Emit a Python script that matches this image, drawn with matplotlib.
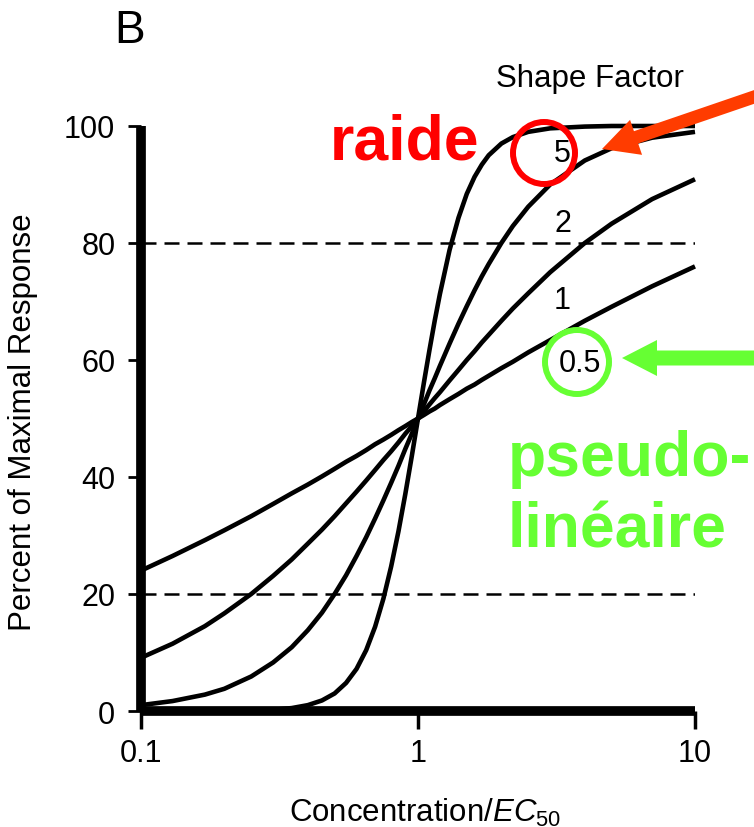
import matplotlib
matplotlib.use("Agg")
import matplotlib.pyplot as plt
from matplotlib.patches import Circle, FancyArrow
from matplotlib.transforms import IdentityTransform
from matplotlib.ticker import NullLocator

plt.rcParams['font.family'] = ['Liberation Sans', 'DejaVu Sans']
plt.rcParams['mathtext.fontset'] = 'custom'
plt.rcParams['mathtext.rm'] = 'Liberation Sans'
plt.rcParams['mathtext.it'] = 'Liberation Sans:italic'

# concentration / EC50 (read along the x axis)
conc = [0.1, 0.13, 0.17, 0.2, 0.25, 0.3, 0.35, 0.4, 0.45, 0.5, 0.55, 0.6,
        0.65, 0.7, 0.75, 0.8, 0.85, 0.9, 0.95, 1.0, 1.05, 1.1, 1.15, 1.2,
        1.3, 1.4, 1.5, 1.6, 1.7, 1.8, 2.0, 2.2, 2.5, 3.0, 4.0, 5.0, 7.0, 10.0]

# percent of maximal response, one list per shape factor
resp_05 = [24.0, 26.5, 29.2, 30.9, 33.3, 35.4, 37.2, 38.7, 40.1, 41.4, 42.6, 43.6,
           44.6, 45.6, 46.4, 47.2, 48.0, 48.7, 49.4, 50.0, 50.6, 51.2, 51.7, 52.3,
           53.3, 54.2, 55.1, 55.8, 56.6, 57.3, 58.6, 59.7, 61.3, 63.4, 66.7, 69.1,
           72.6, 76.0]
resp_1 = [9.1, 11.5, 14.5, 16.7, 20.0, 23.1, 25.9, 28.6, 31.0, 33.3, 35.5, 37.5,
          39.4, 41.2, 42.9, 44.4, 45.9, 47.4, 48.7, 50.0, 51.2, 52.4, 53.5, 54.5,
          56.5, 58.3, 60.0, 61.5, 63.0, 64.3, 66.7, 68.8, 71.4, 75.0, 80.0, 83.3,
          87.5, 90.9]
resp_2 = [1.0, 1.7, 2.8, 3.8, 5.9, 8.3, 10.9, 13.8, 16.8, 20.0, 23.2, 26.5,
          29.7, 32.9, 36.0, 39.0, 41.9, 44.8, 47.4, 50.0, 52.4, 54.8, 56.9, 59.0,
          62.8, 66.2, 69.2, 71.9, 74.3, 76.4, 80.0, 82.9, 86.2, 90.0, 94.1, 96.2,
          98.0, 99.0]
resp_5 = [0.0, 0.0, 0.0, 0.0, 0.1, 0.2, 0.5, 1.0, 1.8, 3.0, 4.8, 7.2,
          10.4, 14.4, 19.2, 24.7, 30.7, 37.1, 43.6, 50.0, 56.1, 61.7, 66.8, 71.3,
          78.8, 84.3, 88.4, 91.3, 93.4, 95.0, 97.0, 98.1, 99.0, 99.6, 99.9, 100.0,
          100.0, 100.0]

curves = [resp_05, resp_1, resp_2, resp_5]
guide_levels = [20, 80]
yticks = [0, 20, 40, 60, 80, 100]
xticks = [0.1, 1, 10]
xtick_labels = ['0.1', '1', '10']

W, H = 754, 828


def fx(x):
    return x / W


def fy(y):
    return 1 - y / H


fig = plt.figure(figsize=(W / 100, H / 100), dpi=100)
ax = fig.add_axes([fx(141), fy(712), (695 - 141) / W, (712 - 127) / H])

for resp in curves:
    ax.plot(conc, resp, color='black', lw=3.3, clip_on=False,
            solid_capstyle='butt', solid_joinstyle='round')

for lev in guide_levels:
    ax.axhline(lev, color='black', lw=1.8, dashes=(6, 3.2))

ax.set_xscale('log')
ax.set_xlim(0.1, 10)
ax.set_ylim(0, 100)
ax.set_xticks(xticks)
ax.set_xticklabels(xtick_labels)
ax.xaxis.set_minor_locator(NullLocator())
ax.set_yticks(yticks)

for s in ['top', 'right']:
    ax.spines[s].set_visible(False)
for s in ['left', 'bottom']:
    ax.spines[s].set_linewidth(7)
    ax.spines[s].set_capstyle('butt')

ax.tick_params(axis='y', direction='out', length=9.5, width=2, pad=9, labelsize=22)
ax.tick_params(axis='x', direction='out', length=13, width=2.5, pad=6.5, labelsize=22)

# axis labels
fig.text(fx(23), fy(422), 'Percent of Maximal Response', rotation=90,
         ha='center', va='center', fontsize=22.5)
fig.text(fx(425), fy(822), r'Concentration/$\mathit{EC}_{50}$',
         ha='center', va='baseline', fontsize=22.5)

fig.text(fx(130), fy(43), 'B', ha='center', va='baseline', fontsize=33)
fig.text(fx(590), fy(87), 'Shape Factor', ha='center', va='baseline', fontsize=22.5)

# curve labels
fig.text(fx(562), fy(162), '5', ha='center', va='baseline', fontsize=22)
fig.text(fx(563), fy(232), '2', ha='center', va='baseline', fontsize=22)
fig.text(fx(562), fy(309), '1', ha='center', va='baseline', fontsize=22)
fig.text(fx(580), fy(372), '0.5', ha='center', va='baseline', fontsize=22)

# annotations
red = '#ff0000'
orange = '#ff3c00'
green = '#66ff33'

fig.text(fx(330), fy(159), 'raide', ha='left', va='baseline', fontsize=45,
         fontweight='bold', color=red)
fig.text(fx(508), fy(476), 'pseudo-', ha='left', va='baseline', fontsize=45,
         fontweight='bold', color=green)
fig.text(fx(508), fy(547), 'linéaire', ha='left', va='baseline', fontsize=45,
         fontweight='bold', color=green)

fig.add_artist(Circle((544, H - 154), 31, fill=False, lw=4.3, edgecolor=red,
                      transform=IdentityTransform()))
fig.add_artist(Circle((577, H - 363), 32, fill=False, lw=4.3, edgecolor=green,
                      transform=IdentityTransform()))

fig.add_artist(FancyArrow(770, H - 92.5, -168, -57.5, width=13, head_width=37,
                          head_length=36, length_includes_head=True,
                          color=orange, lw=0, transform=IdentityTransform()))
fig.add_artist(FancyArrow(770, H - 359, -148, 0, width=15, head_width=36,
                          head_length=35, length_includes_head=True,
                          color=green, lw=0, transform=IdentityTransform()))

fig.savefig('out.png', dpi=100)
